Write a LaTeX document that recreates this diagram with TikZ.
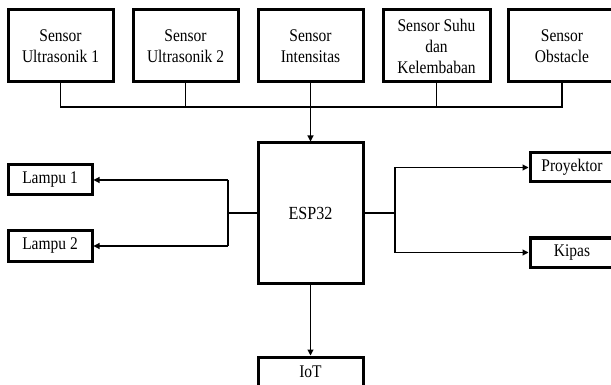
\documentclass[tikz,border=0pt]{standalone}
\usepackage{fontspec}
\setmainfont[FakeStretch=0.87]{Liberation Serif}
\usetikzlibrary{arrows.meta}
\begin{document}
\begin{tikzpicture}[x=1pt,y=-1pt,
  blk/.style={draw=black, line width=3pt, fill=white, rectangle, inner sep=0pt, align=center,
     font=\fontsize{17.8}{21}\selectfont},
  conn/.style={draw=black, line width=1.1pt},
  arr/.style={conn, -{Triangle[length=6pt,width=6pt]}}]
\useasboundingbox (0,0) rectangle (611,385);
\fill[white] (0,0) rectangle (611,385);
\begin{scope}
\clip (0,0) rectangle (611,385);
% sensors
\node[blk, minimum width=105pt, minimum height=72pt] (s1) at (60.5,46) {Sensor\\Ultrasonik 1};
\node[blk, minimum width=105pt, minimum height=72pt] (s2) at (185.5,46) {Sensor\\Ultrasonik 2};
\node[blk, minimum width=105pt, minimum height=72pt] (s3) at (310.5,46) {Sensor\\Intensitas};
\node[blk, minimum width=107pt, minimum height=72pt] (s4) at (436.5,46) {Sensor Suhu\\dan\\Kelembaban};
\node[blk, minimum width=108pt, minimum height=72pt] (s5) at (562,46) {Sensor\\Obstacle};
% esp
\node[blk, minimum width=105pt, minimum height=140pt, font=\fontsize{18.5}{21}\selectfont] (esp) at (310.5,213) {ESP32};
% outputs
\node[blk, minimum width=84pt, minimum height=30pt] (l1) at (50,180) {Lampu 1};
\node[blk, minimum width=84pt, minimum height=30pt] (l2) at (50,246) {Lampu 2};
\node[blk, minimum width=84pt, minimum height=29pt] (pr) at (572,167.5) {Proyektor};
\node[blk, minimum width=84pt, minimum height=29pt] (kp) at (572,252.5) {Kipas};
\node[blk, minimum width=105pt, minimum height=30pt] (iot) at (310.5,372) {IoT};
% bus
\coordinate (b1) at (60.5,107);
\coordinate (b5) at (562,107);
\draw[conn] (s1.south) -- (b1) -- (b5) -- (s5.south);
\draw[conn] (s2.south) -- (s2.south |- b1);
\draw[conn] (s4.south) -- (s4.south |- b1);
\draw[arr] (s3.south) -- (esp.north);
% left
\coordinate (jl) at (228,213);
\draw[conn] (esp.west) -- (jl);
\draw[conn] (jl |- l1.east) -- (jl |- l2.east);
\draw[arr] (jl |- l1.east) -- (l1.east);
\draw[arr] (jl |- l2.east) -- (l2.east);
% right
\coordinate (jr) at (395,213);
\draw[conn] (esp.east) -- (jr);
\draw[conn] (jr |- pr.west) -- (jr |- kp.west);
\draw[arr] (jr |- pr.west) -- (pr.west);
\draw[arr] (jr |- kp.west) -- (kp.west);
% down
\draw[arr] (esp.south) -- (iot.north);
\end{scope}
\end{tikzpicture}
\end{document}
